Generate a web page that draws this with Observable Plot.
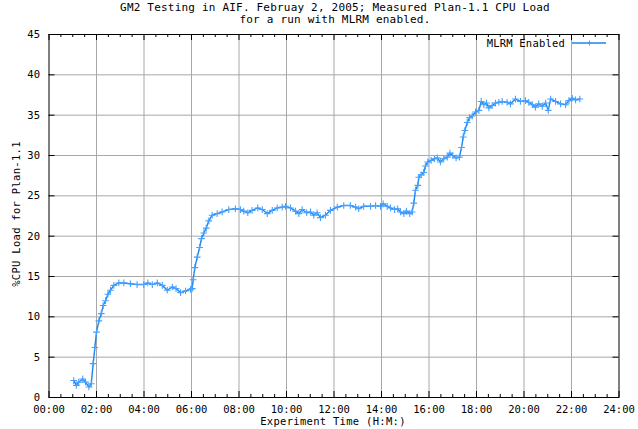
<!DOCTYPE html>
<html>
<head>
<meta charset="utf-8">
<script src="https://cdn.jsdelivr.net/npm/d3@7"></script>
<script src="https://cdn.jsdelivr.net/npm/@observablehq/plot@0.6"></script>
<style>
  html, body { margin: 0; padding: 0; background: #fff; }
  #chart { width: 638px; height: 429px; }
</style>
</head>
<body>
<div id="chart"></div>
<script>
const titleLines = ["GM2 Testing in AIF. Februay 2, 2005; Measured Plan-1.1 CPU Load", "for a run with MLRM enabled."];
const xLabel = "Experiment Time (H:M:)";
const yLabel = "%CPU Load for Plan-1.1";
const seriesName = "MLRM Enabled";
const xTicks = [0, 2, 4, 6, 8, 10, 12, 14, 16, 18, 20, 22, 24];
const yTicks = [0, 5, 10, 15, 20, 25, 30, 35, 40, 45];

// experiment time in hours
const hours = [
  1.04, 1.15, 1.25, 1.42, 1.54, 1.68, 1.78, 1.86, 1.93, 2.00, 2.10, 2.20, 2.28, 2.38, 2.48, 2.59, 2.73, 2.94,
  3.15, 3.43, 3.71, 3.99, 4.16, 4.35, 4.56, 4.77, 4.98, 5.19, 5.35, 5.54, 5.75, 5.96, 6.03, 6.07, 6.14, 6.24,
  6.34, 6.42, 6.52, 6.62, 6.73, 6.87, 7.08, 7.29, 7.57, 7.85, 8.06, 8.20, 8.37, 8.55, 8.79, 8.98, 9.19, 9.40,
  9.61, 9.82, 9.96, 10.17, 10.38, 10.52, 10.66, 10.85, 11.01, 11.15, 11.29, 11.43, 11.64, 11.85, 12.14, 12.41,
  12.69, 12.91, 13.04, 13.25, 13.54, 13.75, 13.96, 14.07, 14.24, 14.38, 14.55, 14.68, 14.80, 14.94, 15.05,
  15.19, 15.29, 15.36, 15.43, 15.53, 15.57, 15.67, 15.78, 15.85, 15.95, 16.09, 16.23, 16.35, 16.48, 16.62,
  16.77, 16.88, 17.00, 17.14, 17.28, 17.37, 17.44, 17.51, 17.61, 17.71, 17.82, 17.96, 18.10, 18.20, 18.31,
  18.42, 18.52, 18.66, 18.80, 18.94, 19.08, 19.29, 19.43, 19.64, 19.85, 20.06, 20.20, 20.35, 20.48, 20.62,
  20.77, 20.91, 21.02, 21.12, 21.33, 21.54, 21.75, 21.89, 22.03, 22.17, 22.35
];
// measured CPU load (%)
const cpuLoad = [
  2.1, 1.5, 1.9, 2.3, 1.9, 1.3, 1.7, 4.2, 6.2, 8.1, 9.5, 10.4, 11.4, 12.0, 12.8, 13.3, 13.9, 14.2,
  14.2, 14.1, 14.0, 14.0, 14.2, 14.0, 14.2, 13.9, 13.3, 13.7, 13.5, 13.0, 13.2, 13.4, 13.5, 14.6, 16.1, 17.4,
  18.6, 19.7, 20.4, 21.0, 21.9, 22.6, 22.8, 23.0, 23.3, 23.4, 23.3, 23.1, 22.9, 23.2, 23.5, 23.3, 22.8, 23.2,
  23.5, 23.6, 23.7, 23.5, 23.1, 22.8, 23.3, 22.9, 23.0, 22.6, 22.9, 22.3, 22.6, 23.2, 23.6, 23.8,
  23.8, 23.6, 23.4, 23.7, 23.7, 23.8, 23.7, 24.0, 23.7, 23.5, 23.3, 23.4, 23.0, 22.8, 23.1,
  22.8, 23.0, 24.1, 25.7, 26.3, 27.3, 27.6, 27.9, 28.7, 29.2, 29.4, 29.6, 29.7, 29.2, 29.6,
  29.8, 30.3, 30.0, 29.7, 29.8, 31.0, 32.3, 33.1, 34.1, 34.7, 34.9, 35.4, 35.6, 36.7, 36.3,
  36.5, 35.9, 36.2, 36.5, 36.6, 36.7, 36.6, 36.4, 37.0, 36.7, 36.8, 36.6, 36.3, 36.0, 36.4,
  36.1, 36.5, 35.6, 37.0, 36.7, 36.4, 36.3, 36.8, 37.1, 36.9, 37.0
];

const data = hours.map((h, i) => ({t: h, v: cpuLoad[i]}));
const minorX = d3.range(0, 24.001, 0.5).filter(v => !xTicks.includes(v));
const fmt = h => String(Math.floor(h)).padStart(2, "0") + ":00";

const W = 638, H = 429;
const mL = 48.5, mR = 19.5, mT = 34, mB = 32;
const plotH = H - mT - mB;
const unitsPerPxY = 45 / plotH;
const unitsPerPxX = 24 / (W - mL - mR);

const lineColor = "#1a86f2";
const dotColor = "#45a0ff";
const gridColor = "#a8a8a8";
const font = "'DejaVu Sans Mono', monospace";

const chart = Plot.plot({
  width: W,
  height: H,
  marginLeft: mL,
  marginRight: mR,
  marginTop: mT,
  marginBottom: mB,
  style: {fontFamily: font, fontSize: "10.5px", color: "#000", background: "#fff"},
  x: {domain: [0, 24], ticks: xTicks, tickFormat: fmt, label: null},
  y: {domain: [0, 45], ticks: yTicks, label: null},
  marks: [
    Plot.gridX(xTicks.slice(1, -1), {stroke: gridColor, strokeOpacity: 1, strokeWidth: 1}),
    Plot.gridY(yTicks.slice(1, -1), {stroke: gridColor, strokeOpacity: 1, strokeWidth: 1}),
    Plot.axisX({ticks: xTicks, tickFormat: fmt, tickSize: 0, tickPadding: 8, label: null}),
    Plot.axisY({ticks: yTicks, tickSize: 0, tickPadding: 9, label: null}),
    // inward major/minor ticks
    Plot.ruleX(xTicks, {x: d => d, y1: 0, y2: 6 * unitsPerPxY, stroke: "#000"}),
    Plot.ruleX(xTicks, {x: d => d, y1: 45, y2: 45 - 6 * unitsPerPxY, stroke: "#000"}),
    Plot.ruleX(minorX, {x: d => d, y1: 0, y2: 3 * unitsPerPxY, stroke: "#000"}),
    Plot.ruleX(minorX, {x: d => d, y1: 45, y2: 45 - 3 * unitsPerPxY, stroke: "#000"}),
    Plot.ruleY(yTicks, {y: d => d, x1: 0, x2: 6 * unitsPerPxX, stroke: "#000"}),
    Plot.ruleY(yTicks, {y: d => d, x1: 24, x2: 24 - 6 * unitsPerPxX, stroke: "#000"}),
    Plot.line(data, {x: "t", y: "v", stroke: lineColor, strokeWidth: 1.4}),
    Plot.dot(data, {x: "t", y: "v", symbol: "plus", r: 2.3, stroke: dotColor, strokeWidth: 1.1}),
    Plot.frame({stroke: "#000", strokeWidth: 1})
  ]
});

const svg = d3.select(chart);
const txt = (x, y, s, anchor = "middle", size = 10.5, ls = 0) =>
  svg.append("text").attr("x", x).attr("y", y).attr("text-anchor", anchor)
    .attr("font-family", font).attr("font-size", size).attr("letter-spacing", ls)
    .attr("fill", "#000").text(s);

txt(335, 11, titleLines[0], "middle", 11, 0.2);
txt(335, 23, titleLines[1], "middle", 11, 0.2);
txt(333, 425, xLabel, "middle", 10.5, 0.3);
svg.append("text").attr("transform", "translate(20,214) rotate(-90)")
  .attr("text-anchor", "middle").attr("font-family", font).attr("font-size", 10.5)
  .attr("letter-spacing", 0.3).attr("fill", "#000").text(yLabel);

// legend
txt(565, 47, seriesName, "end", 10.5, 0.2);
svg.append("line").attr("x1", 572).attr("x2", 606).attr("y1", 43).attr("y2", 43)
  .attr("stroke", lineColor).attr("stroke-width", 1.4);
svg.append("path").attr("d", "M587,43h5M589.5,40.5v5").attr("stroke", dotColor).attr("stroke-width", 1.1);

document.getElementById("chart").appendChild(chart);
</script>
</body>
</html>
